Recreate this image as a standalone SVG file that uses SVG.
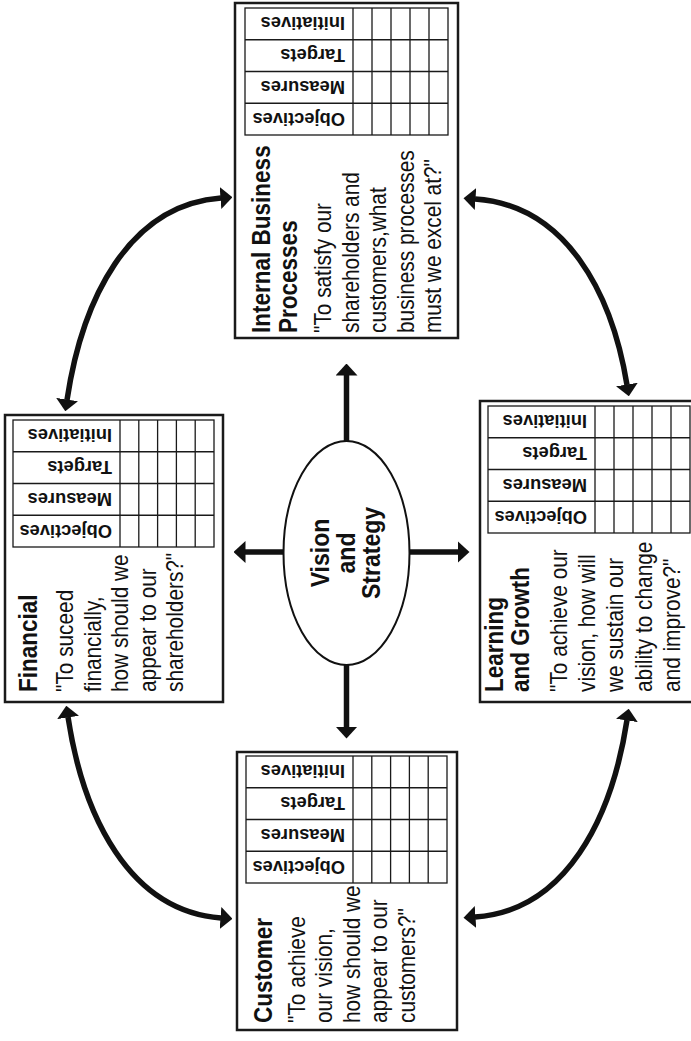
<svg xmlns="http://www.w3.org/2000/svg" width="691" height="1041" viewBox="0 0 691 1041">
<defs>
<style>
.box{fill:#fff;stroke:#1a1a1a;stroke-width:2.5}
.tbl{fill:none;stroke:#1a1a1a;stroke-width:1.3}
.hd{font-family:"Liberation Sans",Arial,sans-serif;font-weight:bold;font-size:18.3px;fill:#111}
.ti{font-family:"Liberation Sans",Arial,sans-serif;font-weight:bold;font-size:26.5px;fill:#111}
.bd{font-family:"Liberation Sans",Arial,sans-serif;font-size:24.5px;fill:#111}
.ct{text-anchor:middle}
.con{fill:none;stroke:#111;stroke-width:5.5;marker-start:url(#ah);marker-end:url(#ah)}
.one{fill:none;stroke:#111;stroke-width:5.5;marker-end:url(#ah)}
.ell{fill:#fff;stroke:#111;stroke-width:2}
</style>
<marker id="ah" viewBox="0 0 12 22" refX="0.5" refY="11" markerWidth="12" markerHeight="22" markerUnits="userSpaceOnUse" orient="auto-start-reverse"><path d="M0,0 L12,11 L0,22 z" fill="#111"/></marker>
</defs>
<rect width="691" height="1041" fill="#fff"/>

<g id="connectors">
<path class="con" d="M67,400 C82,300 128,205 221,198"/>
<path class="con" d="M627,385 C612,293 566,205 475,199"/>
<path class="con" d="M68,717 C83,816 129,911 221,918"/>
<path class="con" d="M627,720 C612,818 566,911 475,917"/>
<path class="one" d="M346.5,442 V375"/>
<path class="one" d="M346.5,664 V727"/>
<path class="one" d="M285,552 H245"/>
<path class="one" d="M409,552 H458"/>
</g>

<g id="vision">
<ellipse class="ell" cx="346.5" cy="553" rx="63" ry="112"/>
<g transform="translate(0,553) rotate(-90) scale(0.87,1)">
<text class="ti ct" x="0" y="329">Vision</text>
<text class="ti ct" x="0" y="355">and</text>
<text class="ti ct" x="0" y="380">Strategy</text>
</g>
</g>

<g id="internal">
<rect class="box" x="235" y="3" width="223" height="335"/>
<rect class="tbl" x="245" y="8" width="203" height="127"/>
<path class="tbl" d="M353,8V135M372,8V135M391,8V135M410,8V135M429,8V135M245,39.75H448M245,71.5H448M245,103.25H448"/>
<text class="hd" transform="translate(345,17.4) rotate(180)">Initiatives</text>
<text class="hd" transform="translate(345,49.15) rotate(180)">Targets</text>
<text class="hd" transform="translate(345,80.9) rotate(180)">Measures</text>
<text class="hd" transform="translate(345,112.65) rotate(180)">Objectives</text>
<g transform="translate(0,333) rotate(-90) scale(0.85,1)">
<text class="ti" x="0" y="270">Internal Business</text>
<text class="ti" x="0" y="297">Processes</text>
<text class="bd" x="0" y="331">"To satisfy our</text>
<text class="bd" x="0" y="359">shareholders and</text>
<text class="bd" x="0" y="386">customers,what</text>
<text class="bd" x="0" y="414">business processes</text>
<text class="bd" x="0" y="441">must we excel at?"</text>
</g>
</g>

<g id="financial">
<rect class="box" x="5" y="415" width="218" height="287"/>
<rect class="tbl" x="13" y="420" width="201" height="127"/>
<path class="tbl" d="M120,420V547M138.8,420V547M157.6,420V547M176.4,420V547M195.2,420V547M13,451.75H214M13,483.5H214M13,515.25H214"/>
<text class="hd" transform="translate(112,429.4) rotate(180)">Initiatives</text>
<text class="hd" transform="translate(112,461.15) rotate(180)">Targets</text>
<text class="hd" transform="translate(112,492.9) rotate(180)">Measures</text>
<text class="hd" transform="translate(112,524.65) rotate(180)">Objectives</text>
<g transform="translate(0,692) rotate(-90) scale(0.85,1)">
<text class="ti" x="0" y="37">Financial</text>
<text class="bd" x="0" y="73">"To suceed</text>
<text class="bd" x="0" y="101">financially,</text>
<text class="bd" x="0" y="128">how should we</text>
<text class="bd" x="0" y="156">appear to our</text>
<text class="bd" x="0" y="183">shareholders?"</text>
</g>
</g>

<g id="customer">
<rect class="box" x="237" y="752" width="220" height="278"/>
<rect class="tbl" x="246" y="756" width="201" height="127"/>
<path class="tbl" d="M353,756V883M371.8,756V883M390.6,756V883M409.4,756V883M428.2,756V883M246,787.75H447M246,819.5H447M246,851.25H447"/>
<text class="hd" transform="translate(345,765.4) rotate(180)">Initiatives</text>
<text class="hd" transform="translate(345,797.15) rotate(180)">Targets</text>
<text class="hd" transform="translate(345,828.9) rotate(180)">Measures</text>
<text class="hd" transform="translate(345,860.65) rotate(180)">Objectives</text>
<g transform="translate(0,1023) rotate(-90) scale(0.85,1)">
<text class="ti" x="0" y="272">Customer</text>
<text class="bd" x="0" y="305">"To achieve</text>
<text class="bd" x="0" y="332">our vision,</text>
<text class="bd" x="0" y="360">how should we</text>
<text class="bd" x="0" y="387">appear to our</text>
<text class="bd" x="0" y="415">customers?"</text>
</g>
</g>

<g id="learning">
<rect class="box" x="480" y="401" width="225" height="301"/>
<rect class="tbl" x="488" y="406" width="202" height="127"/>
<path class="tbl" d="M595,406V533M614,406V533M633,406V533M652,406V533M671,406V533M488,437.75H690M488,469.5H690M488,501.25H690"/>
<text class="hd" transform="translate(587,415.4) rotate(180)">Initiatives</text>
<text class="hd" transform="translate(587,447.15) rotate(180)">Targets</text>
<text class="hd" transform="translate(587,478.9) rotate(180)">Measures</text>
<text class="hd" transform="translate(587,510.65) rotate(180)">Objectives</text>
<g transform="translate(0,692) rotate(-90) scale(0.85,1)">
<text class="ti" x="0" y="503">Learning</text>
<text class="ti" x="0" y="529">and Growth</text>
<text class="bd" x="0" y="567">"To achieve our</text>
<text class="bd" x="0" y="595">vision, how will</text>
<text class="bd" x="0" y="623">we sustain our</text>
<text class="bd" x="0" y="652">ability to change</text>
<text class="bd" x="0" y="680">and improve?"</text>
</g>
</g>
</svg>
